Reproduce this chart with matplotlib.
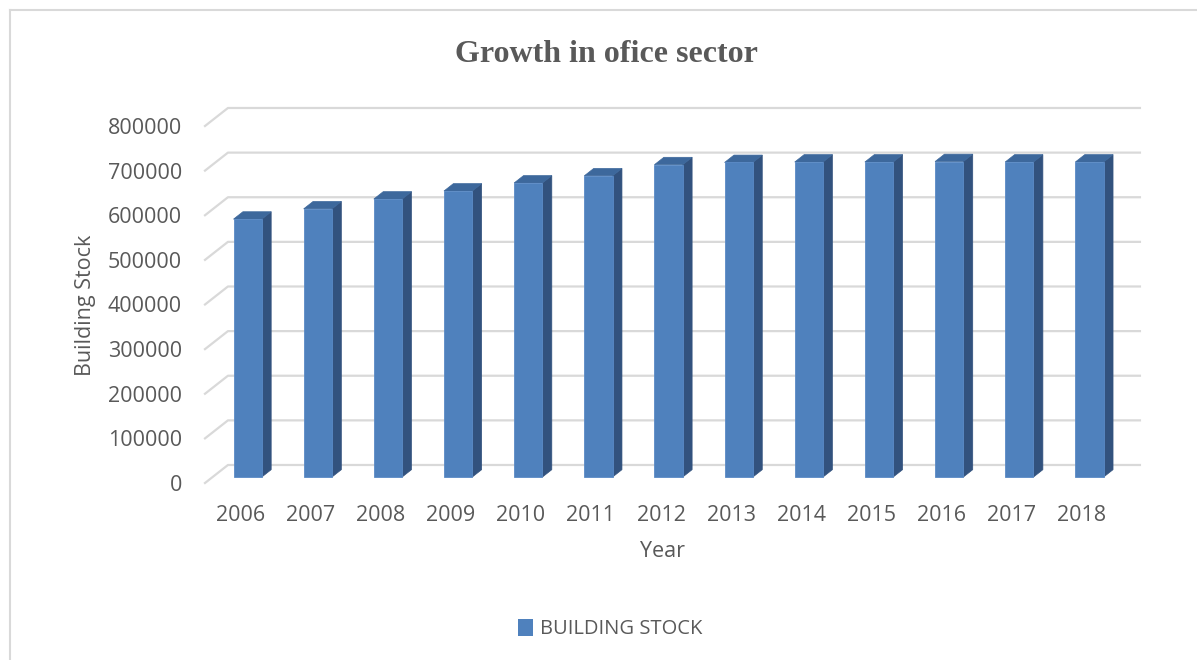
import matplotlib.pyplot as plt
from matplotlib.patches import Polygon, Patch
from matplotlib.lines import Line2D

years = ['2006', '2007', '2008', '2009', '2010', '2011', '2012',
         '2013', '2014', '2015', '2016', '2017', '2018']
stock = [578000, 601000, 623000, 641000, 659000, 675000, 700000,
         705000, 706000, 706000, 707000, 706000, 706000]
yticks = list(range(0, 800001, 100000))

front_c = '#4f81bd'
top_c = '#3d689c'
side_c = '#32527e'
grid_c = '#d9d9d9'
text_c = '#595959'

# oblique "3-D" look: how far the back wall sits behind the front edge
DX = 0.327      # in category units
DY = 40360      # in value units
f0, f1 = 0.33, 0.74   # depth slice occupied by the bars
w = 0.403

plt.rcParams['font.family'] = ['Open Sans', 'DejaVu Sans']

fig = plt.figure(figsize=(11.97, 6.6), dpi=100)
ax = fig.add_axes([205 / 1197, 1 - 483 / 660, 912 / 1197, 357 / 660])
n = len(years)
ax.set_xlim(-0.5, n - 0.5)
ax.set_ylim(0, 800000)

# gridlines: short slanted floor edge then flat along the back wall
for t in yticks:
    ax.plot([-0.5, -0.5 + DX, n - 0.5 + DX], [t, t + DY, t + DY],
            color=grid_c, lw=1.6, clip_on=False, zorder=1)

for i, v in enumerate(stock):
    xl = i - w / 2 + f0 * DX
    xr = i + w / 2 + f0 * DX
    ddx = (f1 - f0) * DX
    y0 = f0 * DY
    y1 = f1 * DY
    front = Polygon([(xl, y0), (xr, y0), (xr, v + y0), (xl, v + y0)],
                    closed=True, facecolor=front_c, edgecolor='#5a8ac6',
                    lw=0.6, clip_on=False, zorder=3)
    top = Polygon([(xl, v + y0), (xr, v + y0), (xr + ddx, v + y1), (xl + ddx, v + y1)],
                  closed=True, facecolor=top_c, edgecolor=top_c,
                  lw=0.5, clip_on=False, zorder=3)
    side = Polygon([(xr, y0), (xr + ddx, y1), (xr + ddx, v + y1), (xr, v + y0)],
                   closed=True, facecolor=side_c, edgecolor=side_c,
                   lw=0.5, clip_on=False, zorder=3)
    for p in (side, top, front):
        ax.add_patch(p)

for s in ax.spines.values():
    s.set_visible(False)
ax.set_xticks(range(n))
ax.set_xticklabels(years)
ax.set_yticks(yticks)
ax.set_yticklabels([str(t) for t in yticks])
ax.tick_params(axis='y', length=0, pad=16.5, labelsize=15.5, labelcolor=text_c)
ax.tick_params(axis='x', length=0, pad=16, labelsize=15.5, labelcolor=text_c)

ax.set_xlabel('Year', fontsize=15.5, color=text_c, va='center')
ax.xaxis.set_label_coords(0.502, -0.1905)
ax.set_ylabel('Building Stock', fontsize=15.5, color=text_c, va='center')
ax.yaxis.set_label_coords(-0.1305, 0.4986)

fig.suptitle('Growth in ofice sector', x=606 / 1197, y=1 - 54 / 660, va='center',
             fontsize=23, fontweight='bold', color=text_c,
             family=['Liberation Serif', 'DejaVu Serif'])

fig.legend(handles=[Patch(facecolor=front_c, label='BUILDING STOCK')],
           loc='center', bbox_to_anchor=(610 / 1197, 1 - 629 / 660),
           frameon=False, fontsize=14.5, handlelength=0.75, handleheight=0.9,
           handletextpad=0.35, labelcolor=text_c)

# chart area border (only top and left edges fall inside the frame)
fig.add_artist(Line2D([10 / 1197, 10 / 1197], [0, 1 - 10 / 660],
                      transform=fig.transFigure, color=grid_c, lw=1.5))
fig.add_artist(Line2D([10 / 1197, 1], [1 - 10 / 660, 1 - 10 / 660],
                      transform=fig.transFigure, color=grid_c, lw=1.5))

fig.savefig('out.png', dpi=100)
